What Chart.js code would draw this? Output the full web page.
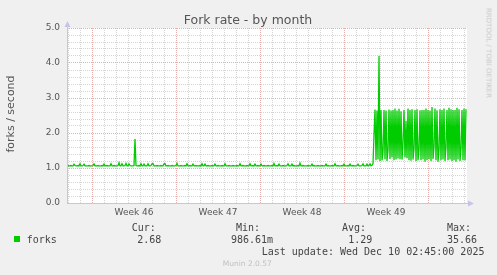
<!DOCTYPE html>
<html lang="en">
<head>
<meta charset="utf-8">
<title>Fork rate - by month</title>
<script src="https://cdn.jsdelivr.net/npm/chart.js@4.4.1/dist/chart.umd.min.js"></script>
<style>
  html, body { margin: 0; padding: 0; background: #f0f0f0; }
  #area-grafico { position: relative; width: 497px; height: 275px; overflow: hidden; font-family: "DejaVu Sans", sans-serif; color: #555; }
  #grafico { position: absolute; left: 0; top: 0; }
  .txt { position: absolute; white-space: nowrap; line-height: 1; }
  .mono { font-family: "DejaVu Sans Mono", monospace; font-size: 10px; color: #444; transform: translateY(-50%); }
</style>
</head>
<body>
<div id="area-grafico">
  <canvas id="grafico" width="497" height="275"></canvas>
  <div class="txt" style="left:248px;top:20px;font-size:12.5px;transform:translate(-50%,-50%);">Fork rate - by month</div>
  <div class="txt" style="left:10px;top:114px;font-size:11px;transform:translate(-50%,-50%) rotate(-90deg);">forks / second</div>
  <div class="txt" style="left:488px;top:53px;font-size:7px;color:#c8c8c8;transform:translate(-50%,-50%) rotate(90deg);">RRDTOOL / TOBI OETIKER</div>
  <div id="legenda"></div>
</div>
<script>
// --- DADOS (um valor a cada 2 horas, 400 pontos) ---
const passoHoras = 2;

const forksAntes = [
    1.06,1.07,1.06,1.06,1.07,1.06,1.06,1.11,1.07,1.06, 1.06,1.07,1.06,1.12,1.06,1.06,1.07,1.11,1.06,1.06,
    1.06,1.06,1.07,1.06,1.06,1.06,1.07,1.12,1.06,1.06, 1.06,1.07,1.06,1.06,1.06,1.07,1.06,1.11,1.06,1.06,
    1.07,1.06,1.06,1.06,1.12,1.06,1.06,1.07,1.06,1.06, 1.06,1.07,1.15,1.06,1.06,1.12,1.06,1.06,1.07,1.13,
    1.06,1.06,1.12,1.07,1.06,1.06,1.06,1.07,1.83,1.07, 1.06,1.06,1.07,1.06,1.12,1.06,1.06,1.11,1.06,1.06,
    1.06,1.12,1.06,1.06,1.07,1.12,1.13,1.06,1.06,1.06, 1.07,1.06,1.06,1.06,1.07,1.06,1.06,1.12,1.13,1.06,
    1.06,1.07,1.06,1.06,1.06,1.07,1.06,1.06,1.06,1.07, 1.13,1.06,1.06,1.06,1.07,1.06,1.06,1.06,1.07,1.06,
    1.12,1.06,1.06,1.07,1.06,1.06,1.11,1.06,1.06,1.07, 1.06,1.06,1.06,1.07,1.06,1.12,1.06,1.06,1.11,1.06,
    1.06,1.07,1.06,1.06,1.06,1.07,1.06,1.06,1.11,1.06, 1.06,1.07,1.06,1.06,1.06,1.07,1.06,1.06,1.12,1.06,
    1.06,1.06,1.07,1.06,1.06,1.06,1.07,1.06,1.06,1.06, 1.07,1.06,1.06,1.12,1.06,1.06,1.07,1.06,1.06,1.06,
    1.07,1.06,1.06,1.12,1.06,1.06,1.07,1.06,1.11,1.06, 1.06,1.07,1.06,1.06,1.11,1.06,1.06,1.07,1.06,1.06,
    1.06,1.07,1.06,1.06,1.06,1.07,1.06,1.13,1.06,1.06, 1.07,1.06,1.11,1.06,1.06,1.06,1.07,1.06,1.06,1.06,
    1.07,1.12,1.06,1.06,1.06,1.11,1.06,1.07,1.06,1.06, 1.06,1.07,1.06,1.14,1.06,1.06,1.07,1.06,1.06,1.06,
    1.06,1.07,1.06,1.06,1.06,1.11,1.06,1.07,1.06,1.06, 1.06,1.07,1.06,1.06,1.06,1.07,1.06,1.06,1.06,1.11,
    1.06,1.07,1.06,1.06,1.06,1.07,1.06,1.06,1.12,1.06, 1.06,1.07,1.06,1.06,1.06,1.07,1.06,1.11,1.06,1.06,
    1.06,1.07,1.06,1.11,1.06,1.06,1.07,1.06,1.06,1.06, 1.07,1.11,1.06,1.06,1.06,1.07,1.12,1.06,1.06,1.06,
    1.11,1.06,1.07,1.12,1.06,1.08
];

const forksDepois = [
    1.12,1.95,2.67,1.22,2.64,1.24,4.2,1.2,2.66,1.22,
    1.45,2.66,1.25,2.64,1.2,1.5,2.67,1.26,2.64,1.3,
    2.66,1.22,2.7,1.24,2.64,1.27,2.69,1.25,2.62,1.24,
    1.7,2.66,1.3,2.35,1.28,2.7,1.22,2.66,1.21,2.68,
    1.24,1.55,2.66,1.2,2.68,1.22,1.5,2.65,1.22,2.66,
    1.25,2.66,1.18,2.7,1.22,2.66,1.25,2.64,1.2,2.74,
    1.26,1.6,2.7,1.22,2.65,1.18,1.5,2.68,1.22,2.66,
    1.24,2.7,1.2,1.6,2.66,1.22,2.72,1.24,2.68,1.2,
    2.66,1.22,2.66,1.18,2.72,1.24,2.68,1.2,1.55,2.66,
    1.22,2.7,1.22,2.68
];

const rotulosSemanas = ['Week 46', 'Week 47', 'Week 48', 'Week 49'];
const rotulosY = ['0.0', '1.0', '2.0', '3.0', '4.0', '5.0'];
const nomesEstat = ['Cur:', 'Min:', 'Avg:', 'Max:'];
const valoresEstat = ['2.68', '986.61m', '1.29', '35.66'];
const textoAtualizacao = 'Last update: Wed Dec 10 02:45:00 2025';
const textoVersao = 'Munin 2.0.57';

// --- EIXO DO TEMPO (horas desde o início) ---
const totalHoras = 800;
const inicioDia = 2;        // primeira meia-noite
const inicioSemana = 50;    // primeira segunda-feira
const meioSemana = 134;     // onde fica o rótulo "Week 46"

const corMaior = '#eab0b0';
const corMenor = '#d4d4d4';
const corEixo = '#c4c4ee';

// --- LEGENDA (HTML) ---
function montarLegenda() {
    const posNomes = [131.7, 236, 342, 447];
    const posValores = [137.3, 231, 348.3, 447];
    let html = `
        <div class="txt" style="left:14px;top:236px;width:6px;height:6px;background:#00cc00;"></div>
        <div class="txt mono" style="left:26.7px;top:239.5px;">forks</div>`;
    nomesEstat.forEach((n, i) => {
        html += `<div class="txt mono" style="left:${posNomes[i]}px;top:228px;">${n}</div>`;
        html += `<div class="txt mono" style="left:${posValores[i]}px;top:239.5px;">${valoresEstat[i]}</div>`;
    });
    html += `<div class="txt mono" style="left:261.7px;top:252px;">${textoAtualizacao}</div>`;
    html += `<div class="txt" style="left:222.7px;top:264px;font-size:7.5px;color:#c0c0c0;transform:translateY(-50%);">${textoVersao}</div>`;
    document.getElementById('legenda').innerHTML = html;
}

// --- FUNDO BRANCO E SETAS DOS EIXOS ---
const pluginMoldura = {
    id: 'moldura',
    beforeDraw(chart) {
        const { ctx, chartArea: a } = chart;
        ctx.save();
        ctx.fillStyle = '#ffffff';
        ctx.fillRect(a.left, a.top, a.right - a.left, a.bottom - a.top);
        ctx.restore();
    },
    afterDraw(chart) {
        const { ctx, chartArea: a } = chart;
        const x0 = Math.round(a.left) + 0.5;
        const y0 = Math.round(a.bottom) + 0.5;
        ctx.save();
        ctx.strokeStyle = corEixo;
        ctx.lineWidth = 1;
        ctx.beginPath();
        ctx.moveTo(x0, y0);
        ctx.lineTo(x0, a.top - 4);
        ctx.moveTo(x0, y0);
        ctx.lineTo(a.right + 4, y0);
        ctx.stroke();
        ctx.fillStyle = corEixo;
        ctx.beginPath();
        ctx.moveTo(x0 - 3, a.top - 1);
        ctx.lineTo(x0, a.top - 7);
        ctx.lineTo(x0 + 3, a.top - 1);
        ctx.fill();
        ctx.beginPath();
        ctx.moveTo(a.right + 1, y0 - 3);
        ctx.lineTo(a.right + 7, y0);
        ctx.lineTo(a.right + 1, y0 + 3);
        ctx.fill();
        ctx.restore();
    }
};

// --- GRÁFICO ---
function renderizarGrafico() {
    const valores = forksAntes.concat(forksDepois);
    const pontos = valores.map((v, i) => ({ x: i * passoHoras, y: v }));

    const ctx = document.getElementById('grafico').getContext('2d');
    new Chart(ctx, {
        type: 'line',
        data: {
            datasets: [{
                label: 'forks',
                data: pontos,
                borderColor: '#00cc00',
                borderWidth: 1.3,
                pointRadius: 0,
                tension: 0,
                fill: false
            }]
        },
        options: {
            responsive: false,
            animation: false,
            devicePixelRatio: 1,
            layout: { padding: { top: 28, right: 30, bottom: 0, left: 0 } },
            plugins: {
                legend: { display: false },
                title: { display: false },
                tooltip: { enabled: false }
            },
            scales: {
                x: {
                    type: 'linear',
                    min: 0,
                    max: totalHoras,
                    afterBuildTicks: (s) => {
                        const t = [];
                        for (let h = inicioDia; h < totalHoras; h += 12) t.push({ value: h });
                        s.ticks = t;
                    },
                    afterFit: (s) => { s.height = 72; },
                    border: { display: false, dash: [1, 1] },
                    grid: {
                        drawTicks: false,
                        color: (c) => {
                            if (!c.tick) return 'rgba(0,0,0,0)';
                            const v = c.tick.value;
                            if ((v - inicioSemana) % 168 === 0) return corMaior;
                            if ((v - inicioDia) % 24 === 0) return corMenor;
                            return 'rgba(0,0,0,0)';
                        }
                    },
                    ticks: {
                        autoSkip: false,
                        maxRotation: 0,
                        padding: 4,
                        color: '#555',
                        font: { family: 'DejaVu Sans', size: 9 },
                        callback: (v) => {
                            const k = (v - meioSemana) / 168;
                            return Number.isInteger(k) && rotulosSemanas[k] ? rotulosSemanas[k] : '';
                        }
                    }
                },
                y: {
                    min: 0,
                    max: 5,
                    afterBuildTicks: (s) => {
                        const t = [];
                        for (let k = 0; k <= 25; k++) t.push({ value: k / 5 });
                        s.ticks = t;
                    },
                    afterFit: (s) => { s.width = 67; },
                    border: { display: false, dash: [1, 1] },
                    grid: {
                        drawTicks: false,
                        color: (c) => {
                            if (!c.tick) return 'rgba(0,0,0,0)';
                            const v = c.tick.value;
                            return Math.abs(v - Math.round(v)) < 1e-9 ? corMaior : corMenor;
                        }
                    },
                    ticks: {
                        autoSkip: false,
                        padding: 7,
                        color: '#555',
                        font: { family: 'DejaVu Sans', size: 9 },
                        callback: (v) => Math.abs(v - Math.round(v)) < 1e-9 ? rotulosY[Math.round(v)] : ''
                    }
                }
            }
        },
        plugins: [pluginMoldura]
    });
}

montarLegenda();
renderizarGrafico();
</script>
</body>
</html>
